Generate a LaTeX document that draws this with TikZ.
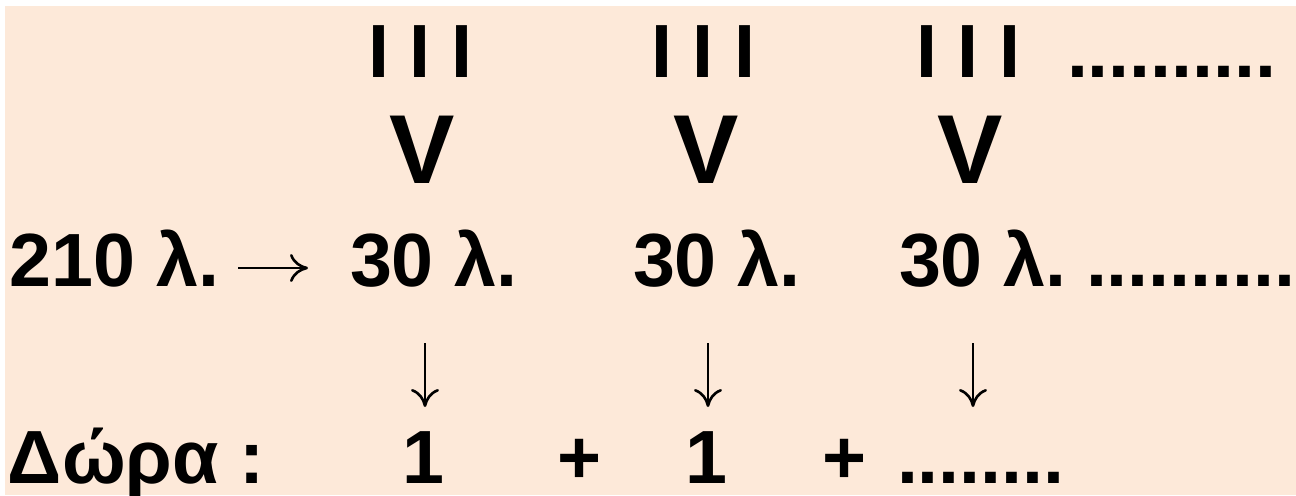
\documentclass[tikz,border=0pt]{standalone}
\usepackage{fontspec}
\setmainfont{Liberation Sans}
\usetikzlibrary{arrows.meta}
\definecolor{peach}{HTML}{FDE9D9}
\tikzset{
  txt/.style={inner sep=0pt, outer sep=0pt, anchor=base west,
    font=\bfseries\fontsize{37.7}{42}\selectfont},
  big/.style={txt, font=\bfseries\fontsize{49}{54}\selectfont},
  conn/.style={line width=1.3pt,
    -{Computer Modern Rightarrow[length=9pt,width=14pt]}}
}
\begin{document}
\begin{tikzpicture}[x=0.5pt,y=-0.5pt]
\useasboundingbox (0,0) rectangle (1296,495);
\fill[white] (0,0) rectangle (1296,495);
\fill[peach] (5,6) rectangle (1296,495);
% row 1
\node[txt] (i1) at (368,77) {I I I};
\node[txt] (i2) at (651,77) {I I I};
\node[txt] (i3) at (916,77) {I I I};
\node[txt] (d1) at (1067,77) {..........};
% row 2
\node[big] (v1) at (389,183) {V};
\node[big] (v2) at (673,183) {V};
\node[big] (v3) at (937,183) {V};
% row 3
\node[txt] (n210) at (10,286) {210 λ.};
\node[txt] (n30a) at (350,286) {30 λ.};
\node[txt] (n30b) at (633,286) {30 λ.};
\node[txt] (n30c) at (899,286) {30 λ.};
\node[txt] (d2) at (1086,286) {..........};
% row 5
\node[txt] (dora) at (8,483) {Δώρα :};
\node[txt] (one1) at (402,483) {1};
\node[txt] (p1) at (557,483) {+};
\node[txt] (one2) at (685,483) {1};
\node[txt] (p2) at (822,483) {+};
\node[txt] (d3) at (897,483) {........};
% connectors
\draw[conn] ([shift={(228,-18)}]n210.base west) -- ([shift={(-42,-18)}]n30a.base west);
\draw[conn] ([shift={(75,57)}]n30a.base west) -- ([shift={(23,-76)}]one1.base west);
\draw[conn] ([shift={(75,57)}]n30b.base west) -- ([shift={(23,-76)}]one2.base west);
\draw[conn] ([shift={(74,57)}]n30c.base west) -- ([shift={(76,-76)}]d3.base west);
\end{tikzpicture}
\end{document}
